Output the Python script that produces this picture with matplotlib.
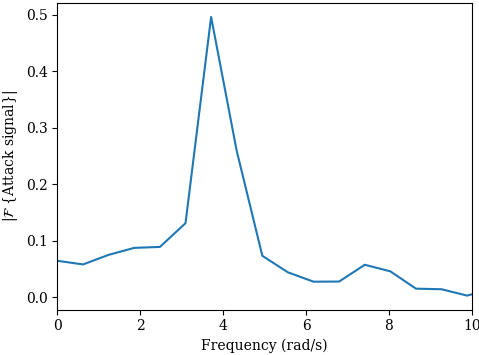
import matplotlib
matplotlib.use('Agg')
import matplotlib.pyplot as plt

plt.rcParams['font.family'] = 'DejaVu Serif'
plt.rcParams['mathtext.fontset'] = 'dejavuserif'

# frequency bins (rad/s) and magnitude of the attack signal spectrum
freq = [0.0, 0.618, 1.236, 1.854, 2.472, 3.09, 3.708, 4.326, 4.944,
        5.562, 6.18, 6.798, 7.416, 8.034, 8.652, 9.27, 9.888, 10.506]
mag = [0.0644, 0.058, 0.075, 0.0873, 0.089, 0.131, 0.496, 0.259, 0.0733,
       0.044, 0.0275, 0.0277, 0.0574, 0.0458, 0.0151, 0.0141, 0.0028, 0.016]

fig = plt.figure(figsize=(4.79, 3.55), dpi=100)
ax = fig.add_axes([0.12, 0.128, 0.865, 0.8635])
ax.plot(freq, mag, color='#1f77b4', linewidth=1.5)
ax.set_xlim(0, 10)
ax.set_xlabel('Frequency (rad/s)')
ax.set_ylabel(r'$|\mathcal{F}\;\{\mathrm{Attack\ signal}\}|$')

fig.savefig('out.png', dpi=100)
